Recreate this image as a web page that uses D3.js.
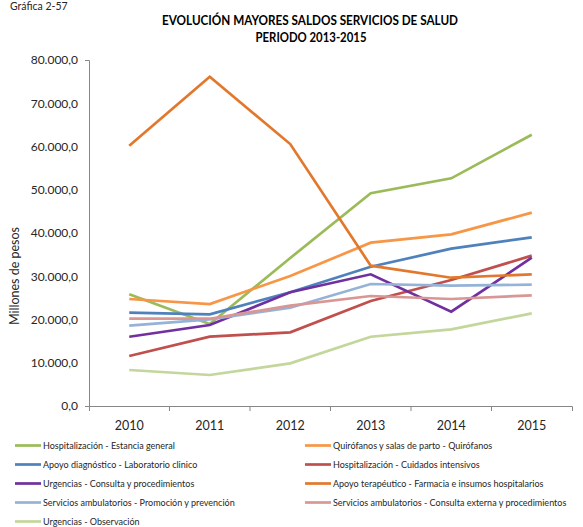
<!DOCTYPE html>
<html lang="es">
<head>
<meta charset="utf-8">
<script src="https://cdn.jsdelivr.net/npm/d3@7"></script>
<style>
  html, body { margin: 0; padding: 0; background: #fff; }
  svg { display: block; font-family: Lato, "Open Sans", sans-serif; }
</style>
</head>
<body>
<svg id="chart" width="583" height="527"></svg>
<script>
// Años del eje horizontal
const years = ["2010", "2011", "2012", "2013", "2014", "2015"];

// Saldos por servicio (millones de pesos)
const hospEstanciaGeneral   = [25830, 18960, 34220, 49180, 52640, 62730];
const quirofanos            = [24740, 23580, 30060, 37760, 39700, 44700];
const laboratorioClinico    = [21570, 21200, 26290, 32210, 36370, 39000];
const cuidadosIntensivos    = [11560, 16020, 17040, 24280, 29130, 34760];
const urgenciasConsulta     = [16020, 18730, 26290, 30450, 21800, 34300];
const farmaciaInsumos       = [60180, 76130, 60570, 32440, 29660, 30450];
const promocionPrevencion   = [18570, 20050, 22730, 28210, 27810, 28050];
const consultaExterna       = [20180, 20180, 23190, 25430, 24740, 25590];
const urgenciasObservacion  = [8320, 7170, 9870, 16020, 17730, 21430];

const seriesNames = [
  "Hospitalización - Estancia general",
  "Quirófanos y salas de parto - Quirófanos",
  "Apoyo diagnóstico - Laboratorio clinico",
  "Hospitalización - Cuidados intensivos",
  "Urgencias - Consulta y procedimientos",
  "Apoyo terapéutico - Farmacia e insumos hospitalarios",
  "Servicios ambulatorios - Promoción y prevención",
  "Servicios ambulatorios - Consulta externa y procedimientos",
  "Urgencias - Observación"
];
const seriesValues = [
  hospEstanciaGeneral, quirofanos, laboratorioClinico, cuidadosIntensivos,
  urgenciasConsulta, farmaciaInsumos, promocionPrevencion, consultaExterna,
  urgenciasObservacion
];
const seriesColors = [
  "#9BBB59", "#F79646", "#4F81BD", "#C0504D", "#7030A0",
  "#E2782C", "#95B3D7", "#D99694", "#C3D69B"
];

const yTicks = [0, 10000, 20000, 30000, 40000, 50000, 60000, 70000, 80000];

const svg = d3.select("#chart");
const axisColor = "#868686";

const x = d3.scaleBand().domain(years).range([89, 572]).padding(0);
const y = d3.scaleLinear().domain([0, 80000]).range([406, 60]);

const locale = d3.formatLocale({ decimal: ",", thousands: ".", grouping: [3], currency: ["", ""] });
const fmt = locale.format(",.1f");

// Títulos
svg.append("text")
  .attr("x", 10).attr("y", 10)
  .attr("font-size", 10.5).attr("fill", "#262626")
  .text("Gráfica 2-57");

svg.append("text")
  .attr("x", 310).attr("y", 25)
  .attr("text-anchor", "middle")
  .attr("font-size", 13).attr("font-weight", "bold").attr("fill", "#000")
  .attr("textLength", 296).attr("lengthAdjust", "spacingAndGlyphs")
  .text("EVOLUCIÓN MAYORES SALDOS SERVICIOS DE SALUD");

svg.append("text")
  .attr("x", 311).attr("y", 41.5)
  .attr("text-anchor", "middle")
  .attr("font-size", 13).attr("font-weight", "bold").attr("fill", "#000")
  .attr("textLength", 111).attr("lengthAdjust", "spacingAndGlyphs")
  .text("PERIODO 2013-2015");

// Eje vertical
const yAxis = svg.append("g")
  .attr("transform", `translate(${x.range()[0]},0)`)
  .call(d3.axisLeft(y).tickValues(yTicks).tickFormat(fmt)
    .tickSizeInner(0).tickSizeOuter(4).tickPadding(11));
yAxis.select(".domain").attr("stroke", axisColor);
yAxis.selectAll("text").attr("font-size", 12).attr("fill", "#262626").attr("font-family", "Lato, sans-serif");

svg.append("text")
  .attr("transform", `translate(19,276) rotate(-90)`)
  .attr("text-anchor", "middle")
  .attr("font-size", 12.5).attr("fill", "#262626")
  .text("Millones de pesos");

// Eje horizontal
const xAxis = svg.append("g")
  .attr("transform", `translate(0,${y(0)})`)
  .call(d3.axisBottom(x).tickSizeInner(0).tickSizeOuter(5).tickPadding(15.5));
xAxis.select(".domain").attr("stroke", axisColor);
xAxis.selectAll("text").attr("font-size", 12.5).attr("fill", "#262626").attr("font-family", "Lato, sans-serif");
xAxis.selectAll(".boundary")
  .data(years.slice(1))
  .enter().append("line")
  .attr("class", "boundary")
  .attr("x1", d => x(d)).attr("x2", d => x(d))
  .attr("y1", 0).attr("y2", 5)
  .attr("stroke", axisColor);

// Líneas de cada serie
const line = d3.line()
  .x((d, i) => x(years[i]) + x.bandwidth() / 2)
  .y(d => y(d));

svg.append("g").selectAll("path")
  .data(seriesValues)
  .enter().append("path")
  .attr("d", d => line(d))
  .attr("fill", "none")
  .attr("stroke", (d, i) => seriesColors[i])
  .attr("stroke-width", 2.7)
  .attr("stroke-linejoin", "miter");

// Leyenda en dos columnas
const legendCols = [15, 305];
const legendRow0 = 445.5, legendRowStep = 19;
const legend = svg.append("g").selectAll("g")
  .data(seriesNames)
  .enter().append("g")
  .attr("transform", (d, i) => `translate(${legendCols[i % 2]},${legendRow0 + Math.floor(i / 2) * legendRowStep})`);
legend.append("line")
  .attr("x1", 0).attr("x2", 26).attr("y1", 0).attr("y2", 0)
  .attr("stroke", (d, i) => seriesColors[i])
  .attr("stroke-width", 2.7);
legend.append("text")
  .attr("x", 28).attr("y", 3.3)
  .attr("font-size", 9).attr("fill", "#262626")
  .text(d => d);
</script>
</body>
</html>
